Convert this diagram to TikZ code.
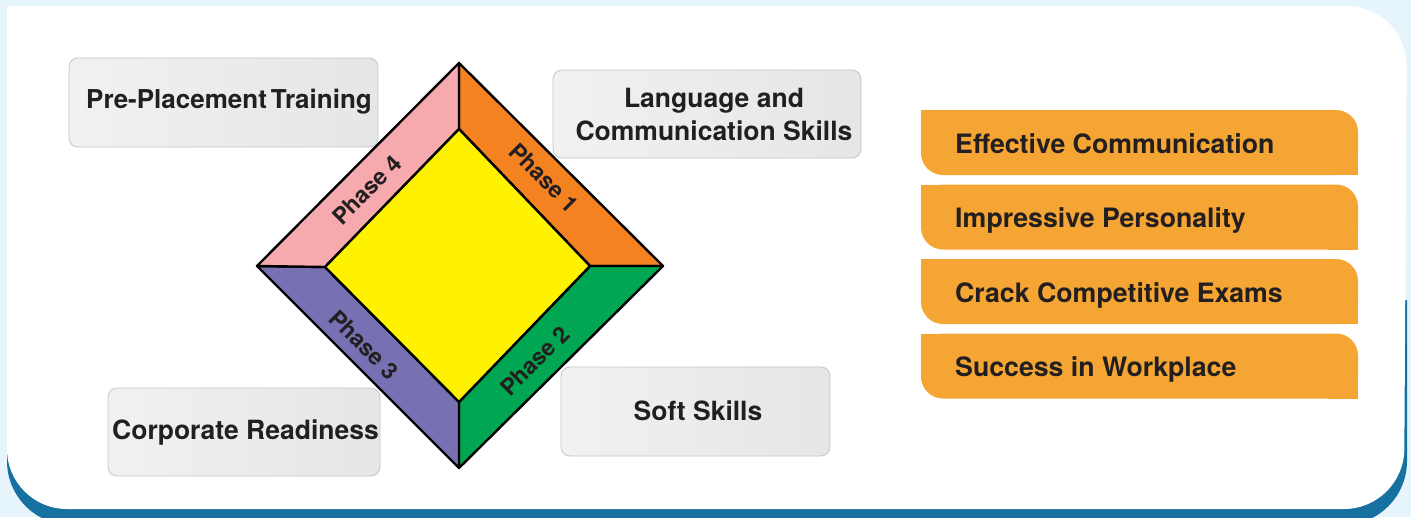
\documentclass[tikz,border=0pt]{standalone}
\usepackage{fontspec}
\setmainfont{TeX Gyre Heros}
\definecolor{bgblue}{HTML}{E6F4FC}
\definecolor{bandblue}{HTML}{1670A0}
\definecolor{txt}{HTML}{231F20}
\definecolor{ph1}{HTML}{F58220}
\definecolor{ph2}{HTML}{00A651}
\definecolor{ph3}{HTML}{7770B3}
\definecolor{ph4}{HTML}{F6AAAD}
\definecolor{core}{HTML}{FFF200}
\definecolor{tabor}{HTML}{F5A533}
\definecolor{boxl}{HTML}{F1F1F1}
\definecolor{boxr}{HTML}{E5E6E7}
\definecolor{boxline}{HTML}{C6C6C6}
\tikzset{
  graybox/.style={draw=boxline, line width=0.8pt, rounded corners=9pt, left color=boxl, right color=boxr, inner sep=0pt},
  boxlbl/.style={text=txt, font=\fontsize{26.5}{33}\selectfont\bfseries, inner sep=0pt, anchor=base, align=center},
  phaselbl/.style={text=txt, font=\fontsize{23}{26}\selectfont\bfseries, inner sep=0pt},
  tablbl/.style={text=txt, font=\fontsize{26.7}{30}\selectfont\bfseries, inner sep=0pt, anchor=base west},
  band/.style={line width=2.4pt, line join=round, draw=black}
}
\begin{document}
\begin{tikzpicture}[x=1pt,y=-1pt]
\useasboundingbox (0,0) rectangle (1411,517);
\fill[bgblue] (0,0) rectangle (1411,517);
% frame
\fill[bandblue, rounded corners=64pt] (7,300) -- (7,525) -- (1407,525) -- (1407,300);
\fill[white, rounded corners=60pt] (7,6) -- (1407,6) -- (1404,509) -- (7,509) -- (7,6);
% diamond coordinates
\coordinate (T) at (459,63);
\coordinate (R) at (663,266);
\coordinate (B) at (459,468);
\coordinate (L) at (257,266);
\coordinate (t) at (459,129);
\coordinate (r) at (590,266);
\coordinate (b) at (459,402);
\coordinate (l) at (325,267);
\filldraw[band, fill=ph1] (T) -- (R) -- (r) -- (t) -- cycle;
\filldraw[band, fill=ph2] (R) -- (B) -- (b) -- (r) -- cycle;
\filldraw[band, fill=ph3] (B) -- (L) -- (l) -- (b) -- cycle;
\filldraw[band, fill=ph4] (L) -- (T) -- (t) -- (l) -- cycle;
\filldraw[band, fill=core] (t) -- (r) -- (b) -- (l) -- cycle;
\node[phaselbl, rotate=-45] (p1) at (544,178) {Phase 1};
\node[phaselbl, rotate=45] (p2) at (535,361) {Phase 2};
\node[phaselbl, rotate=-45] (p3) at (364,345) {Phase 3};
\node[phaselbl, rotate=45] (p4) at (367,190) {Phase 4};
% gray boxes
\node[graybox, minimum width=309pt, minimum height=89pt] (pp) at (223.5,102.5) {};
\node[graybox, minimum width=308pt, minimum height=88pt] (lc) at (707,114) {};
\node[graybox, minimum width=272pt, minimum height=88pt] (cr) at (244,432) {};
\node[graybox, minimum width=269pt, minimum height=89pt] (ss) at (695.5,411.5) {};
\node[boxlbl, font=\fontsize{26}{33}\selectfont\bfseries] (ppt) at (229,108.5) {Pre-Placement\hspace{4pt}Training};
\node[boxlbl] (lct1) at (714,107) {Language and};
\node[boxlbl] (lct2) at (714,140) {Communication Skills};
\node[boxlbl] (crt) at (245.5,439) {Corporate Readiness};
\node[boxlbl] (sst) at (698,420) {Soft Skills};
% orange tabs
\foreach \ytop in {110,184.5,259,333.5}{
  \fill[tabor, rounded corners=22pt] (921,\ytop) rectangle (1358,\ytop+65);
  \fill[tabor] (921,\ytop) rectangle (951,\ytop+30);
  \fill[tabor] (1358,\ytop+65) rectangle (1328,\ytop+35);
}
\node[tablbl] (e1) at (955,153) {Effective Communication};
\node[tablbl] (e2) at (955,227.5) {Impressive Personality};
\node[tablbl] (e3) at (955,302) {Crack Competitive Exams};
\node[tablbl] (e4) at (955,376.5) {Success in Workplace};
\end{tikzpicture}
\end{document}
